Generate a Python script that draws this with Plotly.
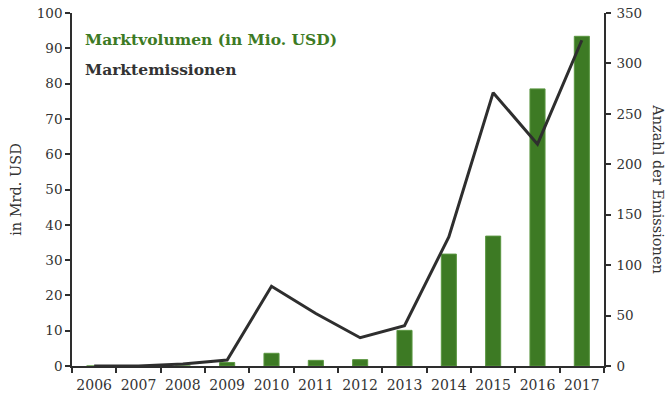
import plotly.graph_objects as go

# Green-bond market: yearly volume (bars) and number of issues (line)
years = ["2006", "2007", "2008", "2009", "2010", "2011",
         "2012", "2013", "2014", "2015", "2016", "2017"]
volume_bn_usd = [0, 0, 0, 1.0, 3.6, 1.6, 1.8, 10.1, 31.7, 36.8, 78.5, 93.4]
issue_count = [0, 0, 2, 6, 79, 52, 28, 40, 128, 271, 220, 323]

volume_label = "Marktvolumen (in Mio. USD)"
issues_label = "Marktemissionen"
left_title = "in Mrd. USD"
right_title = "Anzahl der Emissionen"

FONT = "DejaVu Serif"
GREEN = "#3d7a24"
DARK = "#2e2e2e"
TEXT = "#333333"

fig = go.Figure()

fig.add_trace(go.Bar(
    x=years, y=volume_bn_usd, name=volume_label,
    marker=dict(color=GREEN, line=dict(color="#5a9640", width=1)),
    width=0.34, yaxis="y",
))

fig.add_trace(go.Scatter(
    x=years, y=issue_count, name=issues_label,
    mode="lines", line=dict(color=DARK, width=3),
    yaxis="y2",
))

axis_common = dict(
    showgrid=False, zeroline=False, showline=True, automargin=False,
    linecolor=DARK, linewidth=1.5,
    ticks="outside", ticklen=5, tickcolor=DARK, tickwidth=1.5,
)

fig.update_layout(
    width=669, height=400,
    margin=dict(l=72, r=65, t=13, b=34),
    paper_bgcolor="white", plot_bgcolor="white",
    showlegend=False,
    xaxis=dict(
        type="category", range=[-0.5, 11.5], tickson="boundaries",
        tickangle=0, ticklabelstandoff=5,
        tickfont=dict(family=FONT, size=14, color=TEXT),
        **axis_common,
    ),
    yaxis=dict(
        range=[0, 100], dtick=10,
        tickfont=dict(family=FONT, size=13.5, color=TEXT),
        title=dict(text=left_title, standoff=12,
                   font=dict(family=FONT, size=14.5, color=TEXT)),
        **axis_common,
    ),
    yaxis2=dict(
        range=[0, 350], dtick=50, overlaying="y", side="right",
        ticklabelstandoff=3,
        tickfont=dict(family=FONT, size=13.5, color=TEXT),
        **axis_common,
    ),
    annotations=[
        dict(text=f"<b>{volume_label}</b>", xref="paper", yref="paper",
             x=0.021, y=0.924, xanchor="left", yanchor="middle",
             showarrow=False, font=dict(family=FONT, size=15.5, color=GREEN)),
        dict(text=f"<b>{issues_label}</b>", xref="paper", yref="paper",
             x=0.021, y=0.84, xanchor="left", yanchor="middle",
             showarrow=False, font=dict(family=FONT, size=15.5, color=TEXT)),
        dict(text=right_title, xref="paper", yref="paper",
             x=1.102, y=0.5, xanchor="center", yanchor="middle",
             textangle=90, showarrow=False,
             font=dict(family=FONT, size=14.5, color=TEXT)),
    ],
)

fig.write_html("out.html")
